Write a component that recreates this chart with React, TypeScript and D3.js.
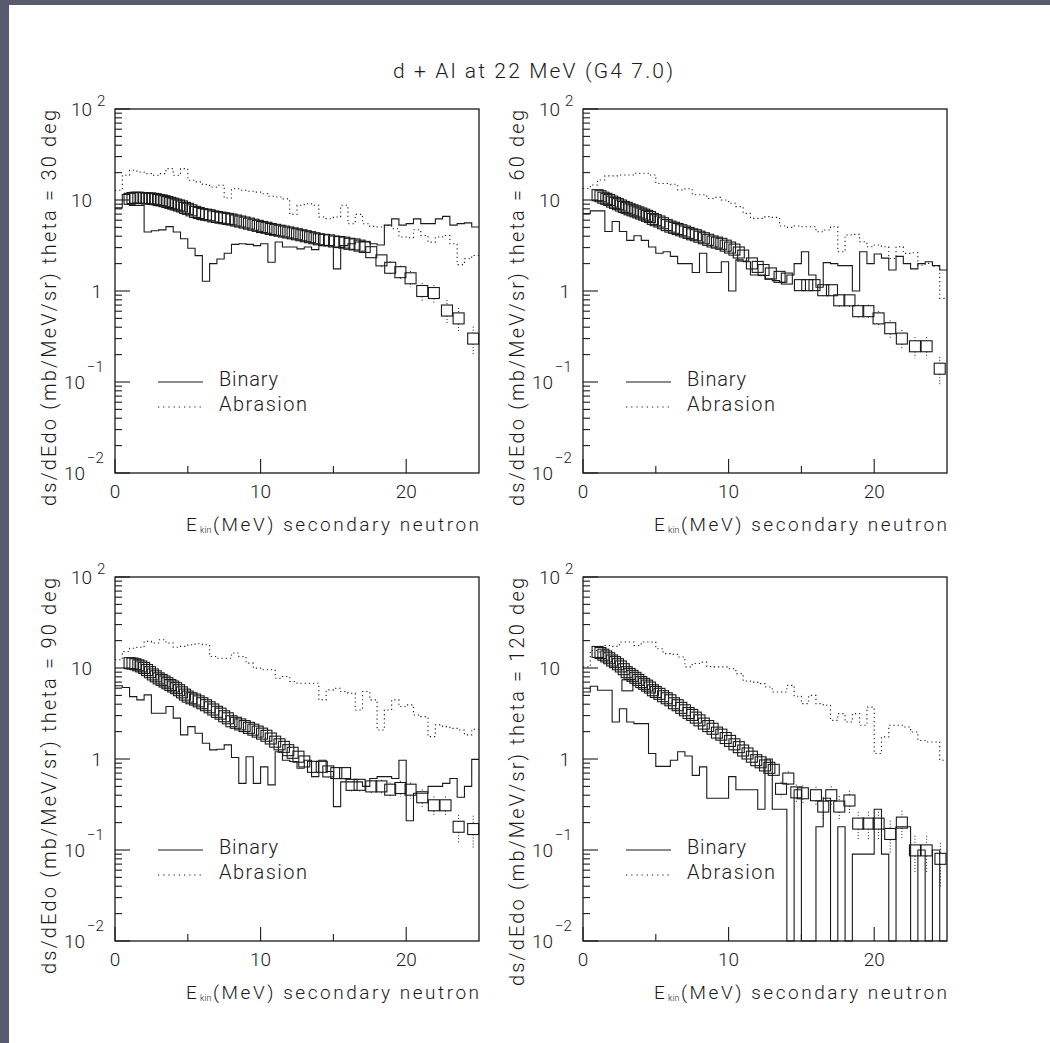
import React from "react";
import * as d3 from "d3";

const TITLE = "d + Al at 22 MeV (G4 7.0)";
const ANGLES = ["30", "60", "90", "120"];
const X_MAJOR = [0, 10, 20];
const X_MINOR = [5, 15];
const Y_TICKS = [0.01, 0.1, 1, 10, 100];
const Y_TICK_BASE = ["10", "10", "1", "10", "10"];
const Y_TICK_EXP = ["\u22122", "\u22121", "", "", "2"];
const LEGEND = ["Binary", "Abrasion"];
const X_LABEL_MAIN = "E";
const X_LABEL_SUB = "kin";
const X_LABEL_REST = "(MeV) secondary neutron";

// ---- theta = 30 deg ----
const e30 = [1.0,1.2,1.4,1.6,1.8,2.0,2.2,2.4,2.6,2.8,3.0,3.2,3.4,3.6,3.8,4.0,4.2,4.4,4.6,4.8,
  5.0,5.25,5.5,5.75,6.0,6.25,6.5,6.75,7.0,7.25,7.5,7.75,
  8.0,8.3,8.6,8.9,9.2,9.5,9.8,10.1,10.4,10.7,11.0,11.3,11.6,11.9,12.2,12.5,12.8,13.1,13.4,13.7,
  14.0,14.35,14.7,15.05,15.4,15.75,16.1,16.45,16.8,17.15,
  17.6,18.3,18.9,19.6,20.3,21.1,21.9,22.8,23.6,24.6];
const d30 = [10.3,10.5,10.6,10.6,10.5,10.5,10.4,10.4,10.3,10.2,10.0,9.9,9.7,9.5,9.3,9.1,8.9,8.7,8.5,8.2,
  8.0,7.7,7.4,7.2,7.0,6.9,6.8,6.6,6.5,6.4,6.3,6.2,
  6.1,5.95,5.8,5.65,5.5,5.35,5.2,5.05,4.95,4.8,4.7,4.6,4.5,4.4,4.3,4.2,4.1,4.0,3.9,3.8,
  3.7,3.65,3.6,3.5,3.45,3.4,3.3,3.25,3.15,3.05,
  2.67,2.17,1.80,1.61,1.38,1.0,0.95,0.61,0.50,0.30];
const err30 = [0.12,0.15,0.18,0.18,0.2,0.22,0.22,0.3,0.3,0.35];
const bin30 = [8.2,11.5,8.7,8.7,4.45,4.6,4.7,5.1,4.45,3.75,2.95,2.45,1.28,2.0,2.25,2.6,3.25,3.3,3.25,3.15,
  3.3,2.07,3.45,3.05,3.05,2.9,3.05,2.85,3.15,3.15,1.75,3.15,3.3,3.45,3.45,3.3,3.2,5.3,6.2,5.3,
  5.5,6.2,5.5,5.5,6.2,6.6,5.3,5.5,5.6,5.05];
const abr30 = [12.8,18.7,21.2,20.3,19.5,18.7,19.5,22.1,18.7,22.1,16.5,15.8,14.8,13.9,14.5,10.5,13.3,12.8,12.5,12.2,
  11.7,11.0,10.8,10.3,6.95,8.74,9.1,8.74,6.5,6.23,6.5,8.74,5.48,6.95,5.48,5.13,5.05,5.26,4.83,3.92,
  3.85,4.71,4.08,3.44,3.92,4.08,3.30,1.95,2.26,2.46];

// ---- theta = 60 deg ----
const e60 = [1.0,1.2,1.4,1.6,1.8,2.0,2.2,2.4,2.6,2.8,3.0,3.2,3.4,3.6,3.8,4.0,4.2,4.4,4.6,4.8,
  5.0,5.25,5.5,5.75,6.0,6.25,6.5,6.75,7.0,7.25,7.5,7.75,
  8.0,8.3,8.6,8.9,9.2,9.5,9.8,10.1,10.4,10.7,11.0,
  11.6,12.0,12.4,12.9,13.5,14.0,14.9,15.4,15.9,16.5,17.1,17.6,18.3,18.9,19.6,20.3,21.1,21.9,22.8,23.6,24.5];
const d60 = [11.3,11.0,10.6,10.3,10.0,9.6,9.3,9.0,8.7,8.4,8.2,7.9,7.7,7.5,7.3,7.1,6.9,6.7,6.5,6.2,
  6.0,5.8,5.55,5.3,5.1,4.95,4.8,4.65,4.5,4.35,4.2,4.1,
  3.95,3.8,3.65,3.5,3.4,3.3,3.15,3.0,2.85,2.65,2.45,
  2.01,1.84,1.70,1.56,1.43,1.37,1.16,1.16,1.16,1.02,1.02,0.79,0.79,0.60,0.60,0.50,0.39,0.30,0.247,0.247,0.14];
const err60 = [0.08,0.08,0.08,0.1,0.1,0.1,0.12,0.12,0.12,0.14,0.14,0.16,0.16,0.18,0.18,0.2,0.22,0.24,0.26,0.26,0.35];
const bin60 = [7.1,7.6,7.6,4.5,5.8,4.5,3.6,4.05,3.6,3.05,2.6,2.7,2.4,2.0,2.0,1.6,2.6,1.6,1.6,2.1,
  1.0,2.2,2.1,1.5,1.5,1.35,1.3,1.25,1.5,2.0,2.7,1.5,1.1,2.05,2.0,1.9,1.9,1.0,2.7,2.0,
  2.55,2.3,1.7,2.4,2.0,1.75,2.0,2.1,1.9,1.7];
const abr60 = [13.4,14.6,16.6,18.4,18.4,18.8,18.8,19.7,19.7,18.8,15.2,15.2,14.9,12.9,13.3,11.4,11.4,10.4,10.7,10.0,
  9.2,8.45,7.13,6.28,6.28,6.56,6.44,5.18,5.0,5.18,5.08,5.08,4.48,4.68,5.08,2.7,4.12,4.19,3.48,3.06,
  3.2,3.06,2.28,3.06,2.59,2.63,1.92,2.01,1.88,0.83];

// ---- theta = 90 deg ----
const e90 = [1.0,1.2,1.4,1.6,1.8,2.0,2.2,2.4,2.6,2.8,3.0,3.2,3.4,3.6,3.8,4.0,4.2,4.4,4.6,4.8,
  5.0,5.25,5.5,5.75,6.0,6.25,6.5,6.75,7.0,7.25,7.5,7.75,
  8.0,8.3,8.6,8.9,9.2,9.5,9.8,10.1,10.4,10.7,11.0,11.3,11.6,11.9,12.2,
  12.6,13.0,13.6,14.2,14.65,15.2,15.8,16.25,16.8,17.6,18.3,18.9,19.6,20.3,21.1,21.9,22.7,23.6,24.6];
const d90 = [11.3,11.2,11.0,10.7,10.4,10.0,9.5,9.0,8.5,8.1,7.7,7.4,7.1,6.8,6.5,6.26,6.0,5.7,5.4,5.1,
  4.85,4.65,4.5,4.3,4.1,3.9,3.7,3.5,3.3,3.15,2.95,2.8,
  2.6,2.5,2.4,2.3,2.2,2.1,2.0,1.9,1.8,1.68,1.55,1.45,1.36,1.25,1.17,
  1.06,0.94,0.82,0.82,0.73,0.70,0.70,0.52,0.52,0.50,0.50,0.46,0.48,0.46,0.38,0.31,0.31,0.18,0.17];
const err90 = [0.1,0.1,0.12,0.12,0.14,0.14,0.15,0.16,0.16,0.18,0.18,0.2,0.2,0.2,0.22,0.25,0.25,0.35,0.4];
const bin90 = [6.37,6.1,4.85,4.46,5.07,3.18,3.18,3.77,2.81,1.84,2.27,1.92,1.49,1.26,1.28,1.43,1.04,0.54,1.06,0.54,
  0.82,0.52,1.2,0.97,0.94,0.79,0.97,0.64,0.97,0.73,0.30,0.56,0.56,0.56,0.50,0.61,0.64,0.64,0.61,0.97,
  0.21,0.42,0.42,0.50,0.50,0.54,0.61,0.38,0.50,0.99];
const abr90 = [12.3,15.2,16.5,16.9,19.6,18.8,20.4,18.8,16.9,17.3,18.0,18.5,18.0,13.4,12.8,12.8,14.6,13.4,11.3,9.96,
  9.55,9.55,7.73,8.06,7.1,6.8,6.8,6.8,4.46,5.75,6.0,5.51,5.28,3.46,5.51,4.46,2.08,3.46,4.46,3.77,
  3.93,3.05,2.92,1.76,2.37,2.27,2.17,2.08,1.84,2.12];

// ---- theta = 120 deg ----
const e120 = [1.0,1.2,1.4,1.6,1.8,2.0,2.2,2.4,2.6,2.8,3.0,3.05,3.2,3.4,3.6,3.8,4.0,4.2,4.4,4.6,4.8,
  5.0,5.25,5.5,5.75,6.0,6.25,6.5,6.75,7.0,7.25,7.5,7.75,
  8.0,8.3,8.6,8.9,9.2,9.5,9.8,10.1,10.4,10.7,11.0,11.3,11.6,11.9,12.2,12.5,12.8,13.1,
  13.6,14.1,14.65,15.1,16.0,16.5,17.05,17.6,18.3,18.9,19.6,20.3,21.1,21.9,22.8,23.6,24.55];
const d120 = [15.0,14.6,14.0,13.4,12.8,12.1,11.6,11.0,10.4,9.7,9.0,6.45,8.6,8.2,7.8,7.4,7.0,6.7,6.4,6.1,5.7,
  5.45,5.2,4.9,4.65,4.42,4.1,3.9,3.65,3.43,3.2,3.05,2.85,
  2.66,2.45,2.3,2.15,1.95,1.85,1.7,1.58,1.45,1.35,1.24,1.15,1.06,0.97,0.92,0.85,0.80,0.76,
  0.47,0.61,0.43,0.42,0.40,0.30,0.40,0.30,0.35,0.195,0.195,0.195,0.15,0.20,0.099,0.099,0.08];
const err120 = [0.2,0.2,0.22,0.22,0.24,0.28,0.25,0.3,0.28,0.35,0.35,0.35,0.4,0.35,0.45,0.45,0.5];
const bin120 = [5.45,6.3,5.7,5.7,2.55,3.57,2.55,2.45,2.45,1.15,0.83,0.83,0.97,1.2,1.08,0.66,0.82,0.37,0.37,0.37,
  0.64,0.46,0.46,0.46,0.28,1.0,0.28,0.28,0,0.46,0,0,0.18,0.37,0,0.18,0,0.09,0.09,0.09,
  0.28,0.09,0,0.18,0.18,0,0.1,0,0.1,0];
const abr120 = [10.3,15.6,15.0,17.7,17.3,19.3,19.3,17.7,19.3,19.3,16.3,14.4,14.1,13.2,10.3,11.2,11.6,10.4,10.3,10.3,
  9.83,8.67,7.2,7.0,6.73,6.18,5.45,5.45,6.45,4.89,4.06,5.0,4.06,3.89,2.66,3.15,2.55,3.15,2.35,3.72,
  1.15,1.75,2.35,2.35,2.25,1.98,1.6,1.54,1.54,0.97];

const PANELS = [
  { angle: ANGLES[0], e: e30, d: d30, err: err30, bin: bin30, abr: abr30 },
  { angle: ANGLES[1], e: e60, d: d60, err: err60, bin: bin60, abr: abr60 },
  { angle: ANGLES[2], e: e90, d: d90, err: err90, bin: bin90, abr: abr90 },
  { angle: ANGLES[3], e: e120, d: d120, err: err120, bin: bin120, abr: abr120 },
];

const FONT = "Roboto, 'DejaVu Sans', sans-serif";
const INK = "#1a1a1a";
const PW = 364;
const PH = 364;
const LEFTS = [115, 583];
const TOPS = [109, 577];
const BIN_W = 0.5;

function Panel({ p, left, top }: any) {
  const x = d3.scaleLinear().domain([0, 25]).range([left, left + PW]);
  const y = d3.scaleLog().domain([0.01, 100]).range([top + PH, top]).clamp(true);
  const line = d3
    .line<[number, number]>()
    .x((d) => x(d[0]))
    .y((d) => y(Math.max(d[1], 0.01)))
    .curve(d3.curveStepAfter);
  const histPts = (vals: number[]) => {
    const pts: [number, number][] = vals.map((v, i) => [i * BIN_W, v]);
    pts.push([vals.length * BIN_W, vals[vals.length - 1]]);
    return pts;
  };
  const minor: number[] = [];
  [0.01, 0.1, 1, 10].forEach((dec) => {
    for (let k = 2; k <= 9; k++) minor.push(dec * k);
  });
  const S = 11;
  const nErr = p.err.length;
  const nPts = p.e.length;
  const bottom = top + PH;
  const right = left + PW;
  const yLabel = `ds/dEdo (mb/MeV/sr) theta = ${p.angle} deg`;
  const yLabelLen = p.angle.length > 2 ? 408 : 396;
  return (
    <g>
      <path d={line(histPts(p.abr)) || ""} fill="none" stroke={INK} strokeWidth={1.1} strokeDasharray="1.2 3" />
      <path d={line(histPts(p.bin)) || ""} fill="none" stroke={INK} strokeWidth={1.1} />
      {p.err.map((r: number, j: number) => {
        const i = nPts - nErr + j;
        const cx = x(p.e[i]);
        const cy = y(p.d[i]);
        const hi = y(p.d[i] * (1 + r));
        const lo = y(Math.max(p.d[i] * (1 - r), 0.01));
        return (
          <g key={"e" + j}>
            {hi < cy - S / 2 && <line x1={cx} x2={cx} y1={hi} y2={cy - S / 2} stroke={INK} strokeWidth={1} strokeDasharray="1 2" />}
            {lo > cy + S / 2 && <line x1={cx} x2={cx} y1={cy + S / 2} y2={lo} stroke={INK} strokeWidth={1} strokeDasharray="1 2" />}
          </g>
        );
      })}
      {p.e.map((e: number, i: number) => (
        <rect key={"s" + i} x={x(e) - S / 2} y={y(p.d[i]) - S / 2} width={S} height={S} fill="none" stroke={INK} strokeWidth={1.1} />
      ))}
      <rect x={left} y={top} width={PW} height={PH} fill="none" stroke={INK} strokeWidth={1.3} />
      {X_MAJOR.map((t) => (
        <line key={"xm" + t} x1={x(t)} x2={x(t)} y1={bottom} y2={bottom - 14} stroke={INK} strokeWidth={1.1} />
      ))}
      {X_MINOR.map((t) => (
        <line key={"xn" + t} x1={x(t)} x2={x(t)} y1={bottom} y2={bottom - 7} stroke={INK} strokeWidth={1.1} />
      ))}
      {X_MAJOR.map((t) => (
        <text key={"xl" + t} x={x(t)} y={bottom + 25} textAnchor="middle" fontSize={19} fill={INK}>
          {t}
        </text>
      ))}
      {Y_TICKS.map((t) => (
        <line key={"ym" + t} x1={left} x2={left + 15} y1={y(t)} y2={y(t)} stroke={INK} strokeWidth={1.1} />
      ))}
      {minor.map((t, i) => (
        <line key={"yn" + i} x1={left} x2={left + 7} y1={y(t)} y2={y(t)} stroke={INK} strokeWidth={1.1} />
      ))}
      {Y_TICKS.map((t, i) => {
        const base = Y_TICK_BASE[i];
        const ex = Y_TICK_EXP[i];
        const neg = ex.startsWith("\u2212");
        const baseEnd = neg ? left - 30 : ex ? left - 23 : base === "10" ? left - 23 : left - 13;
        const by = y(t) + 7;
        return (
          <g key={"yl" + i}>
            <text x={baseEnd} y={by} textAnchor="end" fontSize={19} fill={INK}>
              {base}
            </text>
            {ex && (
              <text x={baseEnd + (neg ? 2 : 5)} y={by - (neg ? 17 : 10)} fontSize={15} fill={INK}>
                {ex}
              </text>
            )}
          </g>
        );
      })}
      <text x={right - 293} y={bottom + 58} fontSize={19} fill={INK}>
        {X_LABEL_MAIN}
      </text>
      <text x={right - 279} y={bottom + 60} fontSize={9} fill={INK}>
        {X_LABEL_SUB}
      </text>
      <text x={right - 266} y={bottom + 58} fontSize={19} fill={INK} textLength={266} lengthAdjust="spacing">
        {X_LABEL_REST}
      </text>
      <text
        transform={`translate(${left - 59},${top + 1}) rotate(-90)`}
        textAnchor="end"
        fontSize={20}
        fill={INK}
        textLength={yLabelLen}
        lengthAdjust="spacing"
      >
        {yLabel}
      </text>
      <line x1={left + 43} x2={left + 88} y1={top + 273} y2={top + 273} stroke={INK} strokeWidth={1.1} />
      <line x1={left + 43} x2={left + 88} y1={top + 298} y2={top + 298} stroke={INK} strokeWidth={1.1} strokeDasharray="1.2 4" />
      <text x={left + 104} y={top + 277} fontSize={20} fill={INK} textLength={59} lengthAdjust="spacing">
        {LEGEND[0]}
      </text>
      <text x={left + 104} y={top + 302} fontSize={20} fill={INK} textLength={88} lengthAdjust="spacing">
        {LEGEND[1]}
      </text>
    </g>
  );
}

export default function App() {
  const W = 1050;
  const H = 1043;
  return (
    <svg
      width={W}
      height={H}
      style={{ position: "absolute", left: 0, top: 0 }}
      fontFamily={FONT}
      fontWeight={300}
    >
      <rect width={W} height={H} fill="#585a6e" />
      <rect x={9} y={5} width={W - 9} height={H - 5} fill="#ffffff" />
      <text x={533} y={78} textAnchor="middle" fontSize={21} fill={INK} textLength={280} lengthAdjust="spacing">
        {TITLE}
      </text>
      {PANELS.map((p, i) => (
        <Panel key={i} p={p} left={LEFTS[i % 2]} top={TOPS[Math.floor(i / 2)]} />
      ))}
    </svg>
  );
}
